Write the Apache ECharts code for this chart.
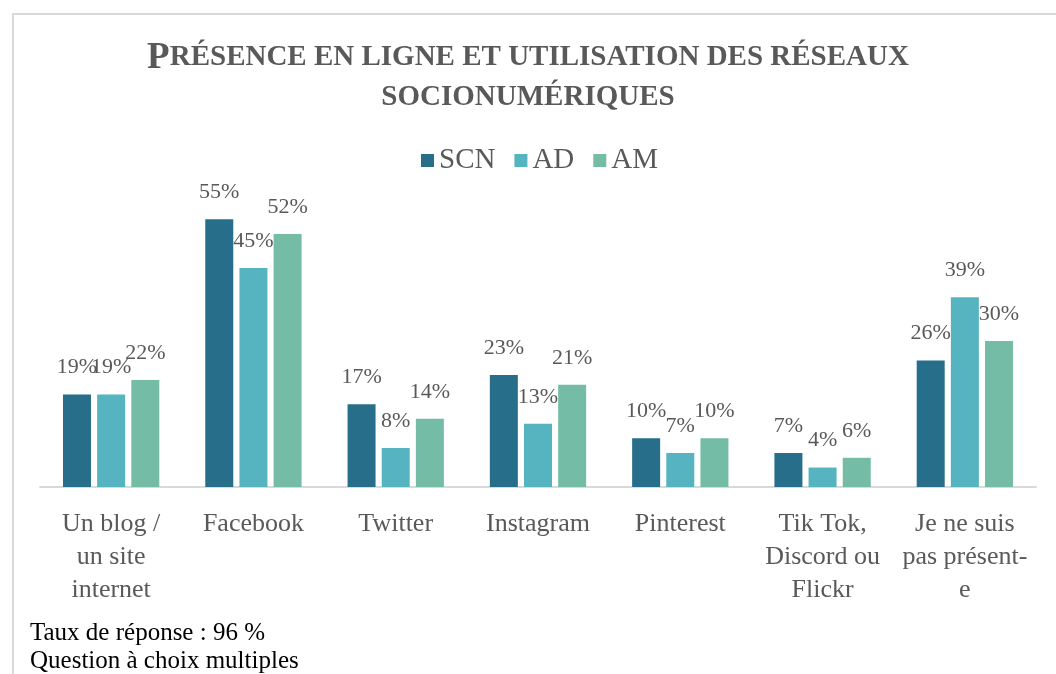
<!DOCTYPE html>
<html>
<head>
<meta charset="utf-8">
<script src="https://cdn.jsdelivr.net/npm/echarts@6/dist/echarts.min.js"></script>
<style>
html,body{margin:0;padding:0;background:#fff;}
#frame{position:absolute;left:12px;top:13px;width:1100px;height:700px;border:2px solid #d9d9d9;box-sizing:border-box;}
#chart{position:absolute;left:0;top:0;width:1056px;height:674px;}
</style>
</head>
<body>
<div id="frame"></div>
<div id="chart"></div>
<script>
const categories = ["Un blog /\nun site\ninternet", "Facebook", "Twitter", "Instagram", "Pinterest", "Tik Tok,\nDiscord ou\nFlickr", "Je ne suis\npas présent-\ne"];
const seriesNames = ["SCN", "AD", "AM"];
const scnValues = [19, 55, 17, 23, 10, 7, 26];
const adValues = [19, 45, 8, 13, 7, 4, 39];
const amValues = [22, 52, 14, 21, 10, 6, 30];
const colors = ["#276e8a", "#56b4c0", "#74bca5"];
const footnotes = ["Taux de réponse : 96 %", "Question à choix multiples"];

const serif = "'Liberation Serif', 'DejaVu Serif', serif";
const chart = echarts.init(document.getElementById('chart'));
const mk = (name, data, color) => ({
  name, type: 'bar', data, barWidth: 28, barGap: '22%',
  itemStyle: {color},
  label: {show: true, position: 'top', distance: 16, formatter: '{c}%', color: '#595959', fontSize: 22, fontFamily: serif}
});
chart.setOption({
  animation: false,
  title: {
    text: '{big|P}{sc|RÉSENCE EN LIGNE ET UTILISATION DES RÉSEAUX}\n{sc|SOCIONUMÉRIQUES}',
    left: 'center', top: 33,
    textStyle: {
      lineHeight: 40,
      rich: {
        big: {fontSize: 37, fontWeight: 'bold', color: '#595959', fontFamily: serif, lineHeight: 40},
        sc: {fontSize: 29, fontWeight: 'bold', color: '#595959', fontFamily: serif, lineHeight: 40}
      }
    }
  },
  legend: {
    data: seriesNames, top: 141, left: 416, icon: 'rect', itemWidth: 13, itemHeight: 13, itemGap: 19,
    textStyle: {fontSize: 29, color: '#595959', fontFamily: serif}
  },
  graphic: footnotes.map((t, i) => ({
    type: 'text', left: 30, top: 621 + i * 28,
    style: {text: t, fontSize: 25, fill: '#000', fontFamily: serif}
  })),
  grid: {left: 40, right: 20, top: 195, bottom: 187},
  xAxis: {
    type: 'category', data: categories,
    axisLine: {lineStyle: {color: '#d9d9d9', width: 2}},
    axisTick: {show: false},
    axisLabel: {fontSize: 26, color: '#595959', fontFamily: serif, lineHeight: 33, margin: 21, interval: 0}
  },
  yAxis: {type: 'value', min: 0, max: 60, show: false, splitLine: {show: false}},
  series: [mk(seriesNames[0], scnValues, colors[0]), mk(seriesNames[1], adValues, colors[1]), mk(seriesNames[2], amValues, colors[2])]
});
</script>
</body>
</html>
